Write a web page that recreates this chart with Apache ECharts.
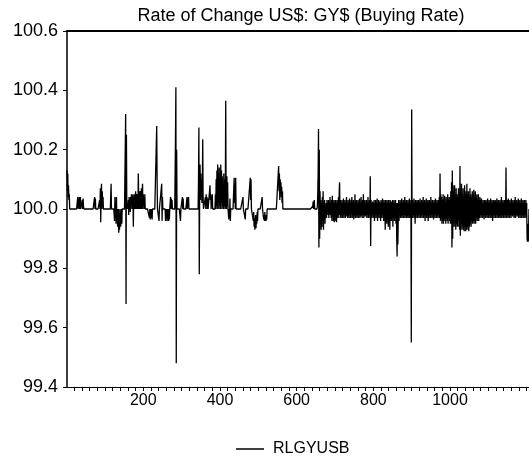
<!DOCTYPE html>
<html><head><meta charset="utf-8">
<script src="https://cdn.jsdelivr.net/npm/echarts@6/dist/echarts.min.js"></script>
<style>html,body{margin:0;padding:0;background:#fff}#c{width:529px;height:469px}</style>
</head><body><div id="c"></div>
<script>
const chartTitle = "Rate of Change US$: GY$ (Buying Rate)";
const seriesName = "RLGYUSB";
const xTickLabels = [200, 400, 600, 800, 1000];
const yMin = 99.4, yMax = 100.6, yStep = 0.2;

// observations 1-100
const obs0001 = [
100.13,100.06,100.12,100.04,100.08,100.03,100.05,100,100,100,
100,100,100,100,100,100,100,100,100,100,
100,100,100,100,100,100,100,100,100.04,100,
100.035,100.01,100.04,100,100.03,100.04,100,100,100,100,
100.03,100,100.035,100.01,100,100,100,100,100,100,
100,100,100,100,100,100,100,100,100,100,
100,100,100,100,100,100,100,100,100,100,
100,100,100.04,100,100.035,100,100,100,100,100,
100,100,100,100,100,100.03,100,100.07,99.955,100.05,
100.085,100,100.06,100.02,100.04,100,100,100,100,100];
// observations 101-200
const obs0101 = [
100,100,100,100,100,100,100,100,100,100,
100,100,100,100,100,100.085,100,100,100,100,
100,100,100,100,99.96,100.04,99.97,100,99.95,100.04,
99.96,100,99.94,99.96,100,99.92,99.95,99.93,100,99.955,
99.94,99.96,100,99.95,100,100,100,100,100,100,
100,100,100,100.32,99.68,100.25,100,100,100.02,100,
100.03,99.98,100.04,100.02,100.03,99.99,100.04,100,100.05,100.02,
100.04,100,100.05,99.94,100.04,100,100.05,100.04,100,100.06,
100,100.05,100.04,100,100.05,100,100.12,100.04,100,100.06,
100,100.05,100.06,100,100.07,100,100.05,100.085,100,100.05];
// observations 201-300
const obs0201 = [
100.02,100.04,100,100.05,100,100,100,100,100,100,
100,100,100,100,100,99.97,100,99.965,99.98,100,
99.97,100,99.965,100,100,100,100,100,100,100,
100,100,100,100,100.28,100.1,100,100,100,100,
99.96,100,100,100,100,100,100,100.085,99.96,100.04,
100,100,100,100,100,100,100,99.96,100,99.97,
100,99.96,100,99.975,100,99.96,100,99.965,100,100,
100.04,100,100.035,100,100.03,100,100,100,100,100,
100,100,100,100.245,100.41,99.48,100.2,100,100,100,
100,100,100,100,100,100,99.96,100,100,100];
// observations 301-400
const obs0301 = [
100,100.04,100,100.035,100,100,100,100,100,100,
100,100,100,100.04,100,100.035,100.01,100.04,100,100,
100,100,100,100,100,100,100,100,100,100,
100,100,100,100,100,100,100,100,100,100,
100,100,100,100.1,100.275,99.78,100.05,100.15,100.03,100.12,
100.04,100.1,100.02,100.08,100.235,100.04,100,100,100,100,
100,100.04,100,100.05,100.02,100.04,100,100.035,100,100,
100,100,100,100.08,100.03,100.05,100,100.04,100.02,100.05,
100,100,100,100,100,100,100,100.05,100,100.1,
100.01,100.13,100,100.15,100.02,100.12,100,100.14,100.01,100.1];
// observations 401-500
const obs0401 = [
100,100.15,100.02,100.13,100,100.11,100.01,100.08,100,100.12,
100.01,100.1,100,100.06,100.365,100.02,100,100.11,100.01,100.09,
100,100,99.965,100,99.97,100.035,99.96,100,100,100,
100,100,100,100,100,100,100.105,100.02,100.08,100,
100.105,100,100,100,100,100,100,100,100,100,
100,100,100,100,100,100,100,100,100,100.04,
100,100,100,100,100,99.965,100,100,100,100,
100,100,100,100,100,100,100,100,100.105,100.03,
100.1,100,100,100,100,100,99.96,99.99,99.94,99.97,
99.93,99.96,99.98,99.935,99.97,99.95,99.99,99.96,100,100];
// observations 501-600
const obs0501 = [
100,100,100,100,100,100,100,100,100,100.04,
100,100,100,99.965,99.98,99.96,99.99,99.96,99.975,99.96,
99.98,99.965,100,100,100,100,100,100,100,100,
100,100,100,100,100,100,100,100,100,100,
100,100,100,100,100,100,100,100,100,100,
100,100,100.145,100.06,100.12,100.03,100.1,100.07,100.09,100.04,
100.075,100.02,100.06,100,100,100,100,100,100,100,
100,100,100,100,100,100,100,100,100,100,
100,100,100,100,100,100,100,100,100,100,
100,100,100,100,100,100,100,100,100,100];
// observations 601-700
const obs0601 = [
100,100,100,100,100,100,100,100,100,100,
100,100,100,100,100,100,100,100,100,100,
100,100,100,100,100,100,100,100,100,100,
100,100,100,100,100,100,100,100,100,100,
100,100.01,100.025,100,100.015,100.03,100,100,100,100,
100,100,100,100.01,100.05,100.12,100.27,99.87,100.2,99.9,
100.06,99.95,100.03,99.93,100.02,99.94,100.04,99.96,100.06,99.93,
100.02,99.97,100.03,99.95,100.01,99.98,100.02,99.97,100.03,99.99,
100.02,99.98,100.03,99.97,100.01,99.99,100.04,99.98,100.02,99.97,
100.03,99.96,100.045,99.98,100.02,99.96,100.03,99.955,100.02,99.98];
// observations 701-800
const obs0701 = [
100.03,99.96,100.02,99.955,100.03,99.97,100.02,99.98,100.04,99.97,
100.06,100.09,99.98,100.03,99.97,100.02,99.98,100.03,99.97,100.01,
99.98,100.035,99.97,100.02,99.985,100.03,99.97,100.02,99.98,100.04,
99.975,100.02,99.97,100.03,99.98,100.01,99.97,100.035,99.98,100.02,
99.97,100.03,99.985,100.04,99.97,100.02,99.98,100.03,99.965,100.02,
99.98,100.05,99.97,100.02,99.98,100.03,99.97,100.015,99.98,100.03,
99.97,100.02,99.98,100.035,99.97,100.01,99.975,100.04,99.98,100.02,
99.97,100.03,99.98,100.05,99.97,100.02,99.98,100.03,99.975,100.02,
99.98,100.03,99.97,100.02,99.98,100.04,99.97,100.02,99.98,100.03,
99.97,100.11,99.875,100.03,99.97,100.02,99.98,100.025,99.97,100.02];
// observations 801-900
const obs0801 = [
99.975,100.03,99.96,100.02,99.98,100.03,99.97,100.02,99.98,100.035,
99.96,100.02,99.98,100.03,99.97,100.025,99.98,100.02,99.96,100.03,
99.97,100.02,99.98,100.035,99.97,100.02,99.96,100.03,99.98,100.02,
99.93,100.03,99.97,100.02,99.95,100.03,99.98,100.02,99.94,100.03,
99.97,100.02,99.93,100.03,99.98,100.02,99.96,100.025,99.97,100.03,
99.94,100.02,99.98,100.03,99.96,100.02,99.97,100.03,99.95,100.02,
99.9,99.84,100.02,99.88,99.97,100.03,99.96,100.02,99.98,100.03,
99.97,100.02,99.975,100.035,99.97,100.02,99.98,100.03,99.97,100.02,
99.98,100.04,99.97,100.02,99.98,100.03,99.97,100.02,99.975,100.03,
99.97,100.02,99.98,100.035,99.97,100.02,99.98,100.03,99.55,100.335];
// observations 901-1000
const obs0901 = [
99.98,100.03,99.97,100.02,99.98,100.035,99.97,100.02,99.95,100.03,
99.97,100.02,99.98,100.03,99.97,100.025,99.98,100.03,99.97,100.02,
99.98,100.035,99.97,100.02,99.98,100.03,99.97,100.02,99.98,100.04,
99.97,100.02,99.98,100.03,99.96,100.02,99.98,100.035,99.97,100.02,
99.98,100.03,99.96,100.025,99.97,100.03,99.98,100.02,99.97,100.04,
99.98,100.02,99.97,100.03,99.98,100.02,99.965,100.03,99.98,100.02,
99.97,100.035,99.98,100.02,99.97,100.03,99.98,100.02,99.97,100.03,
99.98,100.04,99.97,100.12,99.96,100.05,99.97,100.04,99.95,100.03,
99.96,100.05,99.95,100.03,99.97,100.045,99.96,100.02,99.95,100.04,
99.97,100.03,99.96,100.05,99.95,100.03,99.97,100.04,99.96,100.03];
// observations 1001-1100
const obs1001 = [
99.95,100.06,99.96,100.09,99.87,100.13,99.9,100.08,99.95,100.06,
99.94,100.08,99.96,100.05,99.93,100.07,99.95,100.05,99.94,100.04,
99.96,100.07,99.94,100.05,99.93,100.145,99.91,100.06,99.95,100.085,
99.93,100.05,99.94,100.07,99.93,100.04,99.925,100.08,99.94,100.05,
99.925,100.06,99.93,100.085,99.94,100.05,99.93,100.06,99.925,100.04,
99.94,100.07,99.95,100.05,99.94,100.04,99.96,100.06,99.95,100.05,
99.96,100.065,99.95,100.04,99.96,100.06,99.95,100.04,99.97,100.05,
99.96,100.03,99.97,100.05,99.96,100.03,99.97,100.04,99.98,100.03,
99.97,100.035,99.98,100.02,99.97,100.03,99.98,100.02,99.965,100.03,
99.98,100.025,99.97,100.03,99.98,100.02,99.97,100.035,99.98,100.02];
// observations 1101-1206
const obs1101 = [
99.97,100.03,99.98,100.02,99.97,100.035,99.98,100.02,99.97,100.03,
99.96,100.02,99.98,100.03,99.97,100.025,99.98,100.03,99.97,100.02,
99.98,100.035,99.97,100.02,99.98,100.03,99.97,100.02,99.975,100.03,
99.97,100.02,99.98,100.04,99.97,100.02,99.98,100.03,99.97,100.02,
99.98,100.03,99.97,100.02,99.98,100.14,99.97,100.02,99.98,100.03,
99.97,100.035,99.98,100.02,99.97,100.03,99.98,100.02,99.97,100.035,
99.98,100.02,99.975,100.03,99.98,100.02,99.97,100.03,99.98,100.04,
99.97,100.02,99.98,100.03,99.975,100.02,99.98,100.035,99.97,100.02,
99.98,100.03,99.97,100.02,99.98,100.035,99.97,100.02,99.98,100.03,
99.97,100.02,99.98,100.03,99.97,100.02,99.98,100.03,99.97,100.02,
99.9,99.89,99.95,99.89,99.93,100];

const values = [].concat(obs0001, obs0101, obs0201, obs0301, obs0401, obs0501,
  obs0601, obs0701, obs0801, obs0901, obs1001, obs1101);
const seriesData = values.map((v, i) => [i + 1, v]);
const minorTicks = [];
for (let t = 20; t <= 1200; t += 20) minorTicks.push(t);

const FONT = "'Liberation Sans', Arial, sans-serif";
const chart = echarts.init(document.getElementById('c'), null, {renderer: 'canvas'});
chart.setOption({
  animation: false,
  backgroundColor: '#fff',
  title: {
    text: chartTitle, left: 296, textAlign: 'center', top: 2,
    textStyle: {fontFamily: FONT, fontSize: 18, fontWeight: 'normal', color: '#000'}
  },
  legend: {
    data: [seriesName], left: 231, top: 436, icon: 'rect',
    itemWidth: 28, itemHeight: 1.5, itemGap: 8,
    textStyle: {fontFamily: FONT, fontSize: 16, color: '#000', padding: [0, 0, 0, 4]}
  },
  grid: {left: 67, right: 0, top: 31, bottom: 82},
  xAxis: [{
    type: 'value', min: 1, max: 1206, position: 'bottom',
    axisLine: {show: true, lineStyle: {color: '#000', width: 1}},
    axisTick: {show: true, customValues: minorTicks, length: 4, inside: false, lineStyle: {color: '#000'}},
    axisLabel: {customValues: xTickLabels, color: '#000', fontFamily: FONT, fontSize: 16, margin: 6,
      formatter: v => String(v)},
    splitLine: {show: false}
  }, {
    type: 'value', min: 1, max: 1206, position: 'top',
    axisLine: {show: true, onZero: false, lineStyle: {color: '#000', width: 2}},
    axisTick: {show: false}, axisLabel: {show: false}, splitLine: {show: false}
  }],
  yAxis: {
    type: 'value', min: yMin, max: yMax, interval: yStep,
    axisLine: {show: true, lineStyle: {color: '#000', width: 1.5}},
    axisTick: {show: true, length: 4, inside: false, lineStyle: {color: '#000'}},
    axisLabel: {color: '#000', fontFamily: FONT, fontSize: 18, margin: 9, formatter: v => v.toFixed(1)},
    splitLine: {show: false}
  },
  series: [{
    name: seriesName, type: 'line', data: seriesData, xAxisIndex: 0,
    showSymbol: false, symbol: 'none', silent: true,
    lineStyle: {color: '#000', width: 1.3}, itemStyle: {color: '#000'}
  }]
});
</script></body></html>
